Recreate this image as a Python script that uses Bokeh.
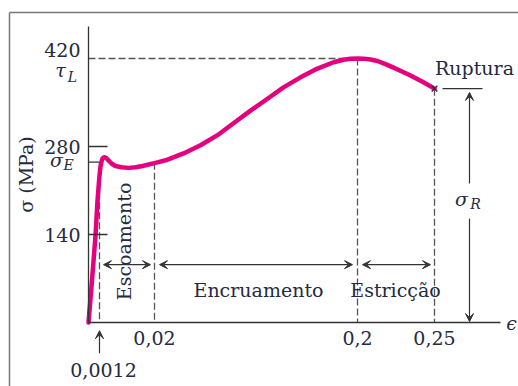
import math
from bokeh.plotting import figure
from bokeh.models import Range1d, FixedTicker, Arrow, VeeHead
from bokeh.embed import file_html
from bokeh.resources import INLINE
from bokeh.core.properties import value

# ---- data (strain axis is schematic: each labelled strain has a position) ----
strain_labels = ["0,0012", "0,02", "0,2", "0,25"]
strain_pos = [11, 66, 269, 346]
stress_ticks = [140, 280, 420]
stress_labels = ["140", "280", "420"]

sigma_E = 255     # yield stress level
sigma_L = 420     # ultimate stress
sigma_R = 372     # rupture stress

curve_x = [0, 3.5, 7, 9, 11, 12, 13, 14, 15.5, 17.5, 20, 23, 27, 33, 40, 47,
           54, 67, 79, 95, 112, 129, 145, 162, 179, 195, 212, 229, 245, 255,
           262, 269, 275, 282, 289, 297, 305, 314, 322, 334, 346]
curve_y = [0, 67, 138, 194, 234, 248, 256, 261, 263, 262, 258, 253, 249, 247,
           246, 247, 249, 254, 259, 269, 282, 298, 317, 337, 356, 374, 390,
           404, 414, 418, 419.5, 420, 419.8, 418.5, 416, 411, 405.5, 399, 393,
           383, 372]

arrow_level = 92  # height of the region dimension arrows

# ---- styling ----
FONT = "DejaVu Serif"
TXT = "#262a40"
PINK = "#e5007d"
DASH = "#555555"
AX = "#333333"
W, H = 518, 386
px_per_mpa = 88 / 140

p = figure(width=W, height=H, output_backend="svg", toolbar_location=None,
           x_range=Range1d(-88, 430),
           y_range=Range1d(-64 / px_per_mpa, 322 / px_per_mpa),
           min_border=0, min_border_left=0, min_border_right=0,
           min_border_top=0, min_border_bottom=0)
p.outline_line_color = None
p.grid.visible = False
p.background_fill_color = "white"

# axes drawn at the origin
p.xaxis.fixed_location = 0
p.yaxis.fixed_location = 0
p.xaxis.bounds = (0, 412)
p.yaxis.bounds = (0, 471)
for ax in (p.xaxis, p.yaxis):
    ax.axis_line_color = AX
    ax.axis_line_width = 1.3
    ax.major_tick_line_color = AX
    ax.major_tick_line_width = 1.3
    ax.minor_tick_line_color = None
    ax.major_label_text_font = FONT
    ax.major_label_text_font_size = "19px"
    ax.major_label_text_color = TXT
    ax.major_label_text_font_style = "normal"

p.xaxis.ticker = FixedTicker(ticks=strain_pos[1:])
p.xaxis.major_label_overrides = {v: l for v, l in zip(strain_pos[1:], strain_labels[1:])}
p.xaxis.major_tick_in = 0
p.xaxis.major_tick_out = 0
p.xaxis.major_label_standoff = 8

p.yaxis.ticker = FixedTicker(ticks=stress_ticks[:2])
p.yaxis.major_label_overrides = {v: l for v, l in zip(stress_ticks[:2], stress_labels[:2])}
p.yaxis.major_tick_in = 19
p.yaxis.major_tick_out = 0
p.yaxis.major_label_standoff = 8
p.yaxis.axis_label = "σ (MPa)"
p.yaxis.axis_label_text_font = FONT
p.yaxis.axis_label_text_font_size = "19px"
p.yaxis.axis_label_text_font_style = "normal"
p.yaxis.axis_label_text_color = TXT
p.yaxis.axis_label_standoff = 4

# frame border of the figure
p.line([-79, 430], [493, 493], line_color="#777777", line_width=1.5)
p.line([-79, -79], [493, -110], line_color="#777777", line_width=1.5)

# guide lines
dash = dict(line_color=DASH, line_width=1.3, line_dash="7 3")
p.line([0, strain_pos[2]], [sigma_L, sigma_L], **dash)
p.line([strain_pos[2], strain_pos[2]], [sigma_L, 0], **dash)
p.line([strain_pos[3], strain_pos[3]], [sigma_R, 0], **dash)
p.line([strain_pos[1], strain_pos[1]], [254, 0], **dash)
p.line([strain_pos[0], strain_pos[0]], [sigma_E, 0], **dash)
p.line([0, strain_pos[0]], [sigma_E, sigma_E], line_color=AX, line_width=1.3)
# rupture reference bar
p.line([354, 394], [sigma_R, sigma_R], line_color=AX, line_width=1.3)

# curve
p.line(curve_x, curve_y, line_color=PINK, line_width=4.5, line_cap="round",
       line_join="round")
p.scatter([curve_x[-1]], [curve_y[-1]], marker="x", size=8, line_color=AX,
          line_width=1.5)

# arrows
def arr(x0, y0, x1, y1, both=False):
    head = lambda: VeeHead(size=8, fill_color=AX, line_color=AX, line_width=1)
    a = Arrow(x_start=x0, y_start=y0, x_end=x1, y_end=y1, line_color=AX,
              line_width=1.2, end=head(), start=head() if both else None)
    p.add_layout(a)

arr(strain_pos[0] + 4, arrow_level, strain_pos[1] - 4, arrow_level, both=True)
arr(strain_pos[1] + 5, arrow_level, strain_pos[2] - 5, arrow_level, both=True)
arr(strain_pos[2] + 5, arrow_level, strain_pos[3] - 4, arrow_level, both=True)
arr(381, 221, 381, 366)
arr(381, 165, 381, 1.5)
arr(strain_pos[0], -49, strain_pos[0], -13)

# texts
def txt(x, y, s, size="19px", style="normal", align="center", angle=0):
    p.text([x], [y], text=[s], text_font=value(FONT), text_font_size=size,
           text_font_style=style, text_color=TXT, text_align=align,
           text_baseline="middle", angle=angle)

txt(-8, 433, stress_labels[2], align="right")
txt(-28, 401, "τ", style="italic")
txt(-16, 391, "L", size="14px", style="italic")
txt(-32, 258, "σ", style="italic")
txt(-20, 250, "E", size="14px", style="italic")
txt(373, 197, "σ", style="italic")
txt(387, 188, "R", size="14px", style="italic")
txt(35, 129, "Escoamento", angle=math.pi / 2)
txt(170, 52, "Encruamento")
txt(307, 52, "Estricção")
txt(386, 405, "Ruptura")
txt(423, 0, "ϵ", style="italic")
txt(15, -76, strain_labels[0])

open("out.html", "w").write(file_html(p, INLINE))
